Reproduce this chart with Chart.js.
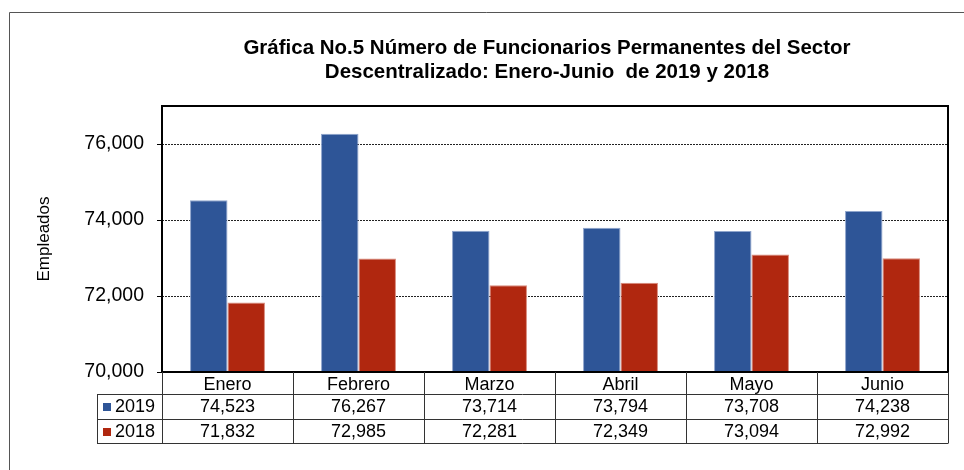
<!DOCTYPE html>
<html>
<head>
<meta charset="utf-8">
<script src="https://cdn.jsdelivr.net/npm/chart.js@4.4.1/dist/chart.umd.min.js"></script>
<style>
  html, body { margin: 0; padding: 0; background: #fff; }
  #wrap { width: 964px; height: 470px; }
</style>
</head>
<body>
<div id="wrap"><canvas id="grafica" width="964" height="470"></canvas></div>
<script>
// Datos
const meses = ['Enero', 'Febrero', 'Marzo', 'Abril', 'Mayo', 'Junio'];
const anios = ['2019', '2018'];
const empleados2019 = [74523, 76267, 73714, 73794, 73708, 74238];
const empleados2018 = [71832, 72985, 72281, 72349, 73094, 72992];
const yTicks = [70000, 72000, 74000, 76000];
const tituloLineas = [
    'Gráfica No.5 Número de Funcionarios Permanentes del Sector',
    'Descentralizado: Enero-Junio  de 2019 y 2018'
];

const AZUL = '#2E5597';
const ROJO = '#B0270F';
const FUENTE = '"Liberation Sans", Arial, sans-serif';

const fmt = (v) => v.toLocaleString('en-US');

// Marco exterior, titulo y borde del area de trazado
const marcoPlugin = {
    id: 'marco',
    beforeDraw(chart) {
        const c = chart.ctx;
        c.save();
        c.fillStyle = '#fff';
        c.fillRect(0, 0, chart.width, chart.height);
        c.strokeStyle = '#555';
        c.lineWidth = 1;
        c.beginPath();
        c.moveTo(9.5, chart.height);
        c.lineTo(9.5, 12.5);
        c.lineTo(chart.width, 12.5);
        c.stroke();

        c.fillStyle = '#000';
        c.font = 'bold 20.5px ' + FUENTE;
        c.textAlign = 'center';
        c.textBaseline = 'middle';
        tituloLineas.forEach((t, i) => c.fillText(t, 547, 48 + i * 24));
        c.restore();
    },
    afterDatasetsDraw(chart) {
        const a = chart.chartArea;
        const c = chart.ctx;
        c.save();
        c.strokeStyle = '#000';
        c.lineWidth = 2;
        c.strokeRect(a.left, a.top, a.right - a.left, a.bottom - a.top);
        c.restore();
    }
};

// Tabla de datos debajo del grafico
const tablaPlugin = {
    id: 'tabla',
    afterDraw(chart) {
        const c = chart.ctx;
        const a = chart.chartArea;
        const xs = chart.scales.x;
        const w = (a.right - a.left) / meses.length;
        const yHead = xs.bottom;
        const rowH = 24.5;
        const yEnd = Math.round(yHead + rowH * 2);
        const xLeyenda = 97;

        c.save();
        c.strokeStyle = '#333';
        c.lineWidth = 1;
        c.beginPath();
        // horizontales
        [yHead, yHead + rowH, yEnd].forEach(y => {
            const yy = Math.round(y) + 0.5;
            c.moveTo(xLeyenda, yy);
            c.lineTo(a.right, yy);
        });
        // verticales
        for (let i = 0; i <= meses.length; i++) {
            const x = Math.round(a.left + i * w) + 0.5;
            c.moveTo(x, a.bottom);
            c.lineTo(x, yEnd + 0.5);
        }
        c.moveTo(xLeyenda + 0.5, yHead);
        c.lineTo(xLeyenda + 0.5, yEnd + 0.5);
        c.stroke();

        const filas = [empleados2019, empleados2018];
        const colores = [AZUL, ROJO];
        c.font = '18px ' + FUENTE;
        c.textBaseline = 'middle';
        filas.forEach((fila, r) => {
            const yc = yHead + rowH * r + rowH / 2 + 1;
            c.fillStyle = colores[r];
            c.fillRect(103, Math.round(yc) - 4, 8, 8);
            c.fillStyle = '#000';
            c.textAlign = 'left';
            c.fillText(anios[r], 115, yc);
            c.textAlign = 'center';
            fila.forEach((v, i) => c.fillText(fmt(v), xs.getPixelForValue(i), yc));
        });
        c.restore();
    }
};

new Chart(document.getElementById('grafica'), {
    type: 'bar',
    data: {
        labels: meses,
        datasets: [
            {
                label: anios[0], data: empleados2019,
                backgroundColor: AZUL, borderColor: '#8FA5CC', borderWidth: 1
            },
            {
                label: anios[1], data: empleados2018,
                backgroundColor: ROJO, borderColor: '#D98A7C', borderWidth: 1
            }
        ]
    },
    options: {
        responsive: false,
        animation: false,
        devicePixelRatio: 1,
        layout: { padding: { left: 0, top: 106, right: 16, bottom: 76 } },
        categoryPercentage: 0.572,
        barPercentage: 1,
        plugins: {
            legend: { display: false },
            title: { display: false },
            tooltip: { enabled: false }
        },
        scales: {
            x: {
                grid: { display: false, drawTicks: false },
                border: { display: false },
                ticks: { color: '#000', font: { family: FUENTE, size: 18 }, padding: 2 },
                afterFit: (s) => { s.height = 22; }
            },
            y: {
                min: 70000, max: 77000,
                afterBuildTicks: (s) => { s.ticks = yTicks.map(v => ({ value: v })); },
                afterFit: (s) => { s.width = 162; },
                ticks: {
                    color: '#000', padding: 13,
                    font: { family: FUENTE, size: 19.5 },
                    callback: (v) => fmt(v)
                },
                grid: {
                    color: '#222', lineWidth: 1, tickLength: 5,
                    tickColor: '#000', tickBorderDash: []
                },
                border: { display: false, dash: [2, 1] },
                title: {
                    display: true, text: 'Empleados', color: '#000',
                    font: { family: FUENTE, size: 17 },
                    padding: { top: 34, bottom: 0 }
                }
            }
        }
    },
    plugins: [marcoPlugin, tablaPlugin]
});
</script>
</body>
</html>
